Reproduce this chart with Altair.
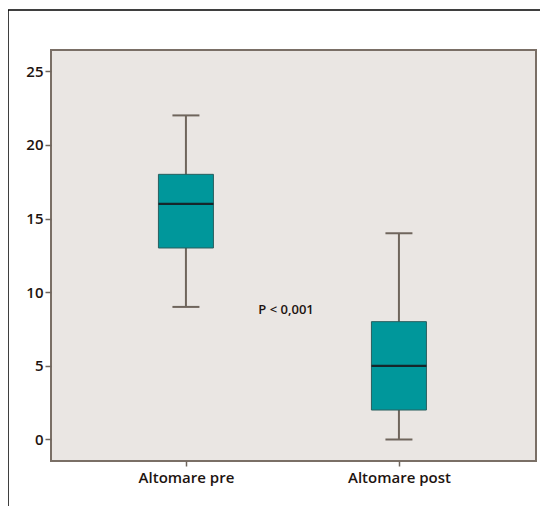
import altair as alt
import pandas as pd

# Data
groups = ["Altomare pre", "Altomare post"]
group_index = [1, 2]
whisker_low = [9, 0]
q1 = [13, 2]
median = [16, 5]
q3 = [18, 8]
whisker_high = [22, 14]

annotation_text = ["P < 0,001"]
annotation_x = [1.47]
annotation_y = [8.8]

y_ticks = [0, 5, 10, 15, 20, 25]

df = pd.DataFrame({
    "group": groups,
    "idx": group_index,
    "lo": whisker_low,
    "q1": q1,
    "med": median,
    "q3": q3,
    "hi": whisker_high,
})
ann = pd.DataFrame({"label": annotation_text, "x": annotation_x, "y": annotation_y})

label_expr = "datum.value == 1 ? '" + groups[0] + "' : (datum.value == 2 ? '" + groups[1] + "' : '')"

FONT = "Open Sans"
TXT = "#1e1410"
LINE = "#6f655c"
TEAL = "#00979b"

x_enc = alt.X(
    "idx:Q",
    scale=alt.Scale(domain=[0.39, 2.62], nice=False, zero=False),
    axis=alt.Axis(values=group_index, labelExpr=label_expr, title=None, grid=False,
                  domain=False, tickSize=5, tickWidth=1.5, tickColor=LINE,
                  labelFont=FONT, labelFontSize=15, labelFontWeight=600,
                  labelColor=TXT, labelPadding=4),
)
y_scale = alt.Scale(domain=[-1.46, 26.44], nice=False, zero=False)
y_axis = alt.Axis(values=y_ticks, title=None, grid=False, domain=False, tickSize=6,
                  tickWidth=1.5, tickColor=LINE, labelFont=FONT, labelFontSize=15,
                  labelFontWeight=600, labelColor=TXT, labelPadding=2)

base = alt.Chart(df)

whisker = base.mark_rule(color=LINE, strokeWidth=2).encode(
    x=x_enc,
    y=alt.Y("lo:Q", scale=y_scale, axis=y_axis),
    y2="hi:Q",
)
cap_lo = base.mark_tick(orient="horizontal", size=27, thickness=2, color=LINE, opacity=1).encode(
    x="idx:Q", y="lo:Q"
)
cap_hi = base.mark_tick(orient="horizontal", size=27, thickness=2, color=LINE, opacity=1).encode(
    x="idx:Q", y="hi:Q"
)
box = base.mark_bar(size=55, orient="vertical", color=TEAL, stroke="#2a5f5f",
                    strokeWidth=1).encode(
    x="idx:Q", y="q1:Q", y2="q3:Q"
)
med = base.mark_tick(orient="horizontal", size=55, thickness=2.2, color="#16262a", opacity=1).encode(
    x="idx:Q", y="med:Q"
)
text = alt.Chart(ann).mark_text(font=FONT, fontSize=13, color=TXT, fontWeight=600,
                                align="center", baseline="middle").encode(
    x="x:Q", y="y:Q", text="label:N"
)
frame = alt.Chart(pd.DataFrame({"k": [0]})).mark_rect(
    fill=None, stroke="#000000", strokeWidth=1.5, clip=False
).encode(
    x=alt.value(-43), y=alt.value(-40), x2=alt.value(700), y2=alt.value(700)
)

chart = alt.layer(frame, whisker, cap_lo, cap_hi, box, med, text).properties(
    width=485,
    height=411,
    autosize=alt.AutoSizeParams(type="none"),
    padding={"left": 43, "top": 42, "right": 4, "bottom": 45},
    background="#ffffff",
).configure_view(
    fill="#eae6e3", stroke="#7a6f66", strokeWidth=2
)

chart.save("out.html", embed_options={"renderer": "svg", "actions": False})
